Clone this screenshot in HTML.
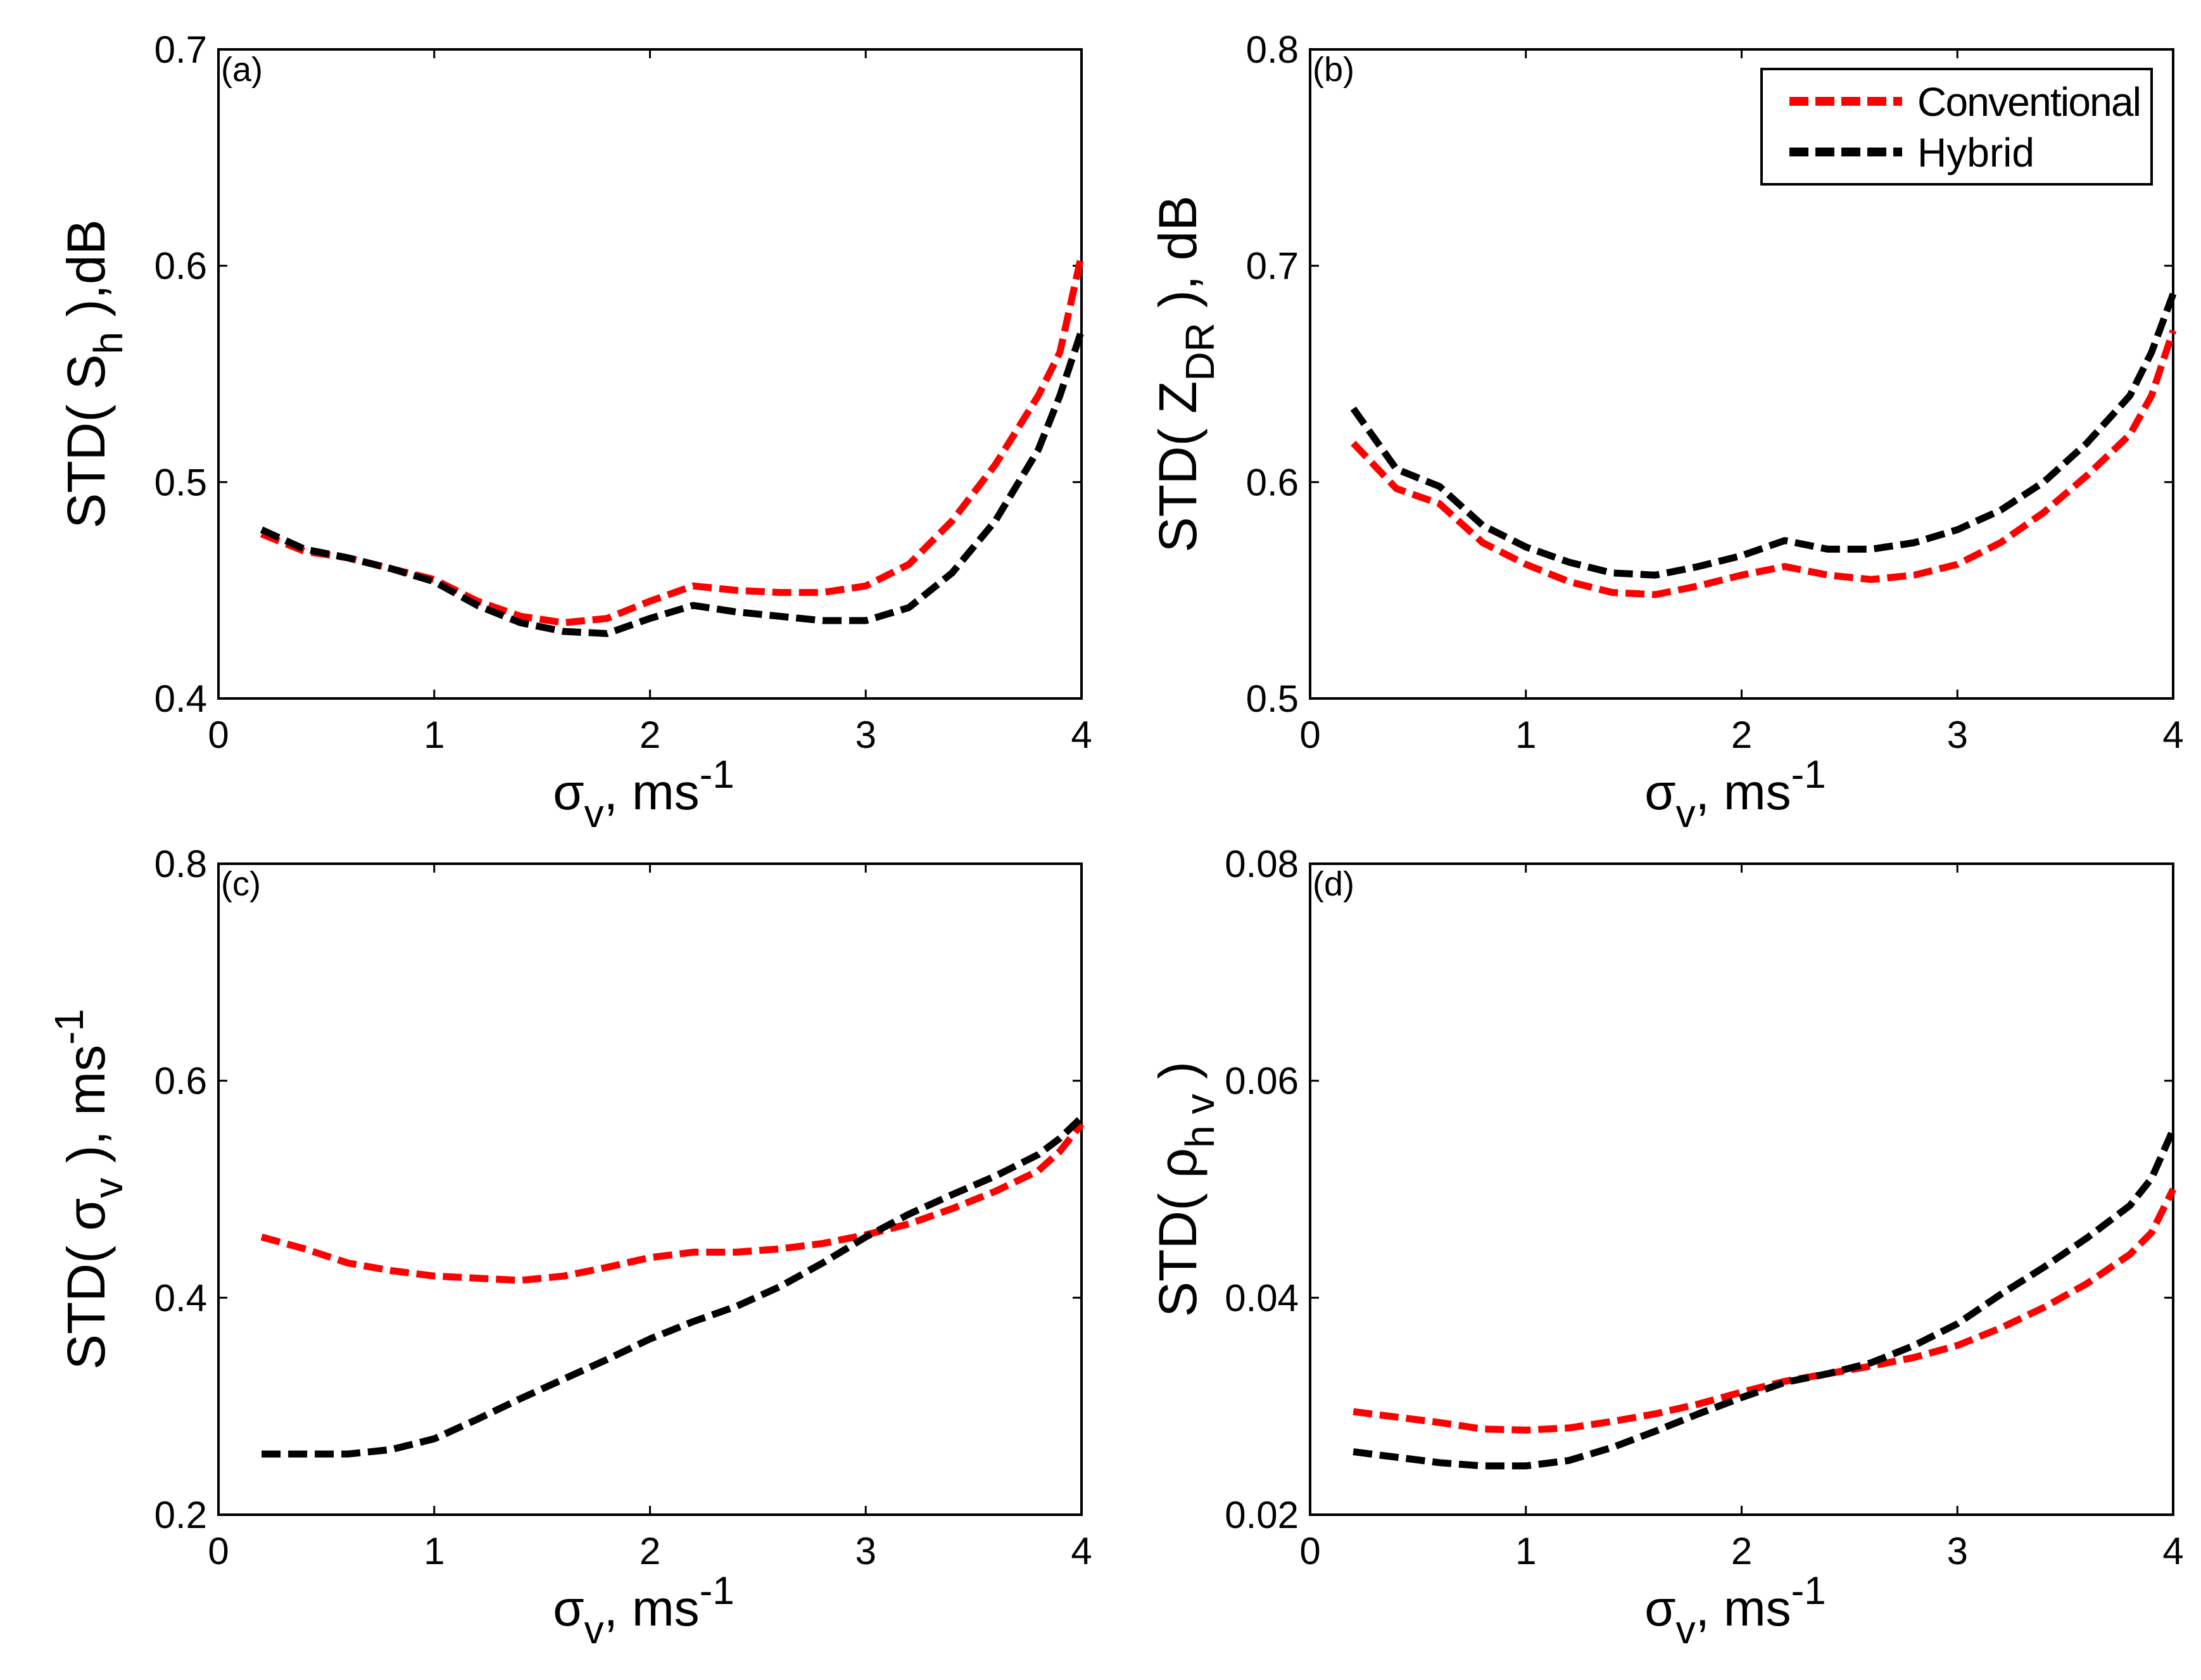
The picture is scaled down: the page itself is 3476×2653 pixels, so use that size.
<!DOCTYPE html>
<html><head><meta charset="utf-8"><style>
html,body{margin:0;padding:0;background:#fff}
svg{display:block}
text{font-family:"Liberation Sans",Arial,sans-serif;fill:#000}
</style></head><body>
<svg id="fig" width="3476" height="2653" viewBox="0 0 3476 2653" xmlns="http://www.w3.org/2000/svg"></svg>
<script>
const xs = [0.2,0.4,0.6,0.8,1.0,1.2,1.4,1.6,1.8,2.0,2.2,2.4,2.6,2.8,3.0,3.2,3.4,3.6,3.8,3.9,4.0];
const aConv = [0.476,0.468,0.465,0.460,0.455,0.445,0.438,0.435,0.437,0.445,0.452,0.450,0.449,0.449,0.452,0.462,0.482,0.508,0.540,0.560,0.605];
const aHyb  = [0.478,0.469,0.465,0.460,0.454,0.443,0.435,0.431,0.430,0.437,0.443,0.440,0.438,0.436,0.436,0.442,0.458,0.482,0.515,0.540,0.570];
const bConv = [0.618,0.597,0.590,0.572,0.562,0.554,0.549,0.548,0.552,0.557,0.561,0.557,0.555,0.557,0.562,0.572,0.586,0.603,0.622,0.640,0.670];
const bHyb  = [0.634,0.606,0.598,0.580,0.570,0.563,0.558,0.557,0.561,0.566,0.573,0.569,0.569,0.572,0.578,0.587,0.600,0.618,0.640,0.660,0.687];
const cConv = [0.456,0.445,0.432,0.425,0.420,0.418,0.416,0.420,0.428,0.437,0.442,0.442,0.445,0.450,0.458,0.468,0.482,0.498,0.517,0.535,0.560];
const cHyb  = [0.256,0.256,0.256,0.260,0.270,0.288,0.307,0.325,0.343,0.362,0.378,0.392,0.410,0.432,0.456,0.477,0.495,0.512,0.532,0.547,0.566];
const dConv = [0.0295,0.0290,0.0285,0.0279,0.0278,0.0280,0.0286,0.0293,0.0302,0.0313,0.0323,0.0330,0.0337,0.0345,0.0356,0.0372,0.0391,0.0413,0.0440,0.0460,0.0500];
const dHyb  = [0.0258,0.0253,0.0248,0.0245,0.0245,0.0250,0.0262,0.0277,0.0293,0.0308,0.0322,0.0330,0.0340,0.0356,0.0376,0.0403,0.0428,0.0455,0.0485,0.0510,0.0555];
const xTicks = [0,1,2,3,4];
const aTicks = ["0.4","0.5","0.6","0.7"];
const bTicks = ["0.5","0.6","0.7","0.8"];
const cTicks = ["0.2","0.4","0.6","0.8"];
const dTicks = ["0.02","0.04","0.06","0.08"];

const NS="http://www.w3.org/2000/svg";
const svg=document.getElementById('fig');
function mk(tag,attrs,parent){const e=document.createElementNS(NS,tag);for(const k in attrs)e.setAttribute(k,attrs[k]);(parent||svg).appendChild(e);return e;}

const panels=[
 {id:'a',L:345,R:1708,T:78,B:1103,ticks:aTicks,conv:aConv,hyb:aHyb,ylab:'sh'},
 {id:'b',L:2069,R:3432,T:78,B:1103,ticks:bTicks,conv:bConv,hyb:bHyb,ylab:'zdr'},
 {id:'c',L:345,R:1708,T:1364,B:2392,ticks:cTicks,conv:cConv,hyb:cHyb,ylab:'sv'},
 {id:'d',L:2069,R:3432,T:1364,B:2392,ticks:dTicks,conv:dConv,hyb:dHyb,ylab:'rho'}
];

panels.forEach(p=>{
 const g=mk('g',{});
 
 
 const ymin=parseFloat(p.ticks[0]), ymax=parseFloat(p.ticks[p.ticks.length-1]);
 const X=v=>p.L+(v-0)/(4-0)*(p.R-p.L);
 const Y=v=>p.B-(v-ymin)/(ymax-ymin)*(p.B-p.T);
 const box=mk('rect',{x:p.L,y:p.T,width:p.R-p.L,height:p.B-p.T,fill:'none',stroke:'#000','stroke-width':4},g);
 
 
 xTicks.forEach(t=>{
  const x=X(t);
  mk('line',{x1:x,y1:p.B,x2:x,y2:p.B-14,stroke:'#000','stroke-width':3},g);
  mk('line',{x1:x,y1:p.T,x2:x,y2:p.T+14,stroke:'#000','stroke-width':3},g);
  const tx=mk('text',{x:x,y:p.B+78,'font-size':60,'text-anchor':'middle'},g);
  tx.textContent=t;
  
  
 });
 p.ticks.forEach(t=>{
  const y=Y(parseFloat(t));
  mk('line',{x1:p.L,y1:y,x2:p.L+14,y2:y,stroke:'#000','stroke-width':3},g);
  mk('line',{x1:p.R,y1:y,x2:p.R-14,y2:y,stroke:'#000','stroke-width':3},g);
  const ty=mk('text',{x:p.L-18,y:y+21,'font-size':60,'text-anchor':'end'},g);
  ty.textContent=t;
  
  
 });
 const lab=mk('text',{x:p.L+4,y:p.T+50,'font-size':54},g);
 lab.textContent='('+p.id+')';
 
 
 [['conv',p.conv,'#ff0000'],['hyb',p.hyb,'#000000']].forEach(s=>{
  const d=xs.map((v,i)=>(i?'L':'M')+X(v).toFixed(1)+' '+Y(s[1][i]).toFixed(1)).join(' ');
  const path=mk('path',{d:d,fill:'none',stroke:s[2],'stroke-width':11,'stroke-dasharray':'30 12','stroke-linejoin':'round'},g);
  
  
 });
 const cx=(p.L+p.R)/2;
 const xt=mk('text',{x:cx-10,y:p.B+175,'font-size':80,'text-anchor':'middle'},g);
 xt.innerHTML='σ<tspan font-size="62" dy="28">v</tspan><tspan dy="-28">, ms</tspan><tspan font-size="62" dy="-34">-1</tspan>';
 
 
 const lx=p.L-180, ly=(p.T+p.B)/2;
 const yt=mk('text',{x:lx,y:ly,'font-size':84,'text-anchor':'middle',transform:'rotate(-90 '+lx+' '+ly+')'},g);
 if(p.ylab==='sh') yt.innerHTML='STD( S<tspan font-size="64" dy="28">h</tspan><tspan dy="-28"> ),dB</tspan>';
 if(p.ylab==='zdr') yt.innerHTML='STD( Z<tspan font-size="64" dy="28">DR</tspan><tspan dy="-28"> ), dB</tspan>';
 if(p.ylab==='sv') yt.innerHTML='STD( σ<tspan font-size="64" dy="28">v</tspan><tspan dy="-28"> ), ms</tspan><tspan font-size="64" dy="-34">-1</tspan>';
 if(p.ylab==='rho') yt.innerHTML='STD( ρ<tspan font-size="64" dy="28">h v</tspan><tspan dy="-28"> )</tspan>';
 
 
});

const lg=mk('g',{});


mk('rect',{x:2782,y:109,width:616,height:182,fill:'#fff',stroke:'#000','stroke-width':4},lg);
[['Conventional','#ff0000',160],['Hybrid','#000',240]].forEach(e=>{
 const eg=mk('g',{},lg);
 
 
 mk('line',{x1:2826,y1:e[2],x2:3004,y2:e[2],stroke:e[1],'stroke-width':14,'stroke-dasharray':'30 11'},eg);
 const t=mk('text',{x:3028,y:e[2]+23,'font-size':64},eg);
 t.textContent=e[0];
 if(e[0]==='Conventional') t.setAttribute('textLength','354');
});
</script>
</body></html>
